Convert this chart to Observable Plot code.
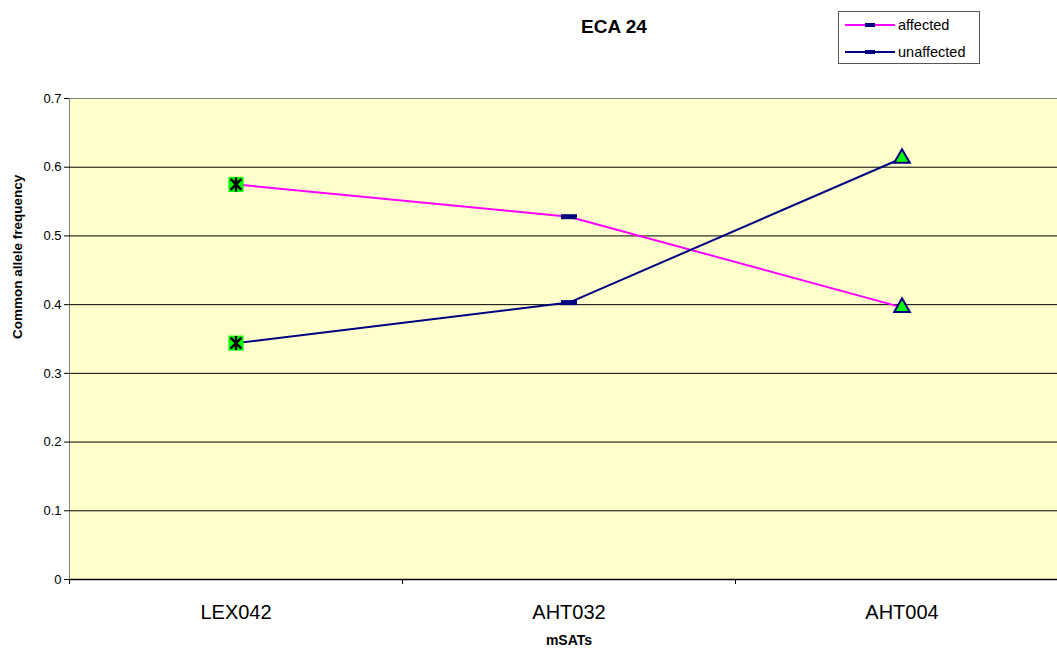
<!DOCTYPE html>
<html><head><meta charset="utf-8">
<script src="https://cdn.jsdelivr.net/npm/d3@7"></script>
<script src="https://cdn.jsdelivr.net/npm/@observablehq/plot@0.6"></script>
<style>
body{margin:0;overflow:hidden;background:#fff;font-family:"Liberation Sans",Arial,sans-serif}
#wrap{position:relative;width:1057px;height:652px;overflow:hidden}
#title{position:absolute;left:554px;width:120px;top:16px;text-align:center;font-weight:bold;font-size:19px;color:#000}
#legend{position:absolute;left:838px;top:11px;width:140px;height:51px;border:1px solid #555;background:#fff;font-size:14.5px}
.item{position:absolute;left:6px;height:16px;display:flex;align-items:center}
.item svg{margin-right:3px}
</style></head><body>
<div id="wrap"></div>
<script>
const markers = ["LEX042", "AHT032", "AHT004"];
const seriesNames = ["affected", "unaffected"];
const seriesColors = ["#FF00FF", "#000080"];
const affected = [0.575, 0.528, 0.396];
const unaffected = [0.344, 0.403, 0.613];
const markerShapes = ["asterisk", "dash", "triangle"];
const yTicks = [0, 0.1, 0.2, 0.3, 0.4, 0.5, 0.6, 0.7];
const chartTitle = "ECA 24";
const yLabel = "Common allele frequency";
const xLabel = "mSATs";

const rows = [];
[affected, unaffected].forEach((vals, si) => {
  vals.forEach((v, i) => rows.push({series: seriesNames[si], marker: markers[i], value: v, shape: markerShapes[i]}));
});

const W = 1068, H = 652, mL = 69, mR = 0, mT = 98, mB = 73;
const band = (W - mL - mR) / markers.length;
const dash = {draw(ctx) { ctx.rect(-8, -2.5, 16, 5); }};
const star = {draw(ctx) {
  ctx.moveTo(-5.5, -5.5); ctx.lineTo(5.5, 5.5);
  ctx.moveTo(-5.5, 5.5); ctx.lineTo(5.5, -5.5);
  ctx.moveTo(0, -7); ctx.lineTo(0, 7);
}};
const font = '"Liberation Sans", Arial, sans-serif';

const chart = Plot.plot({
  width: W, height: H,
  marginLeft: mL, marginRight: mR, marginTop: mT, marginBottom: mB,
  style: {fontFamily: font, maxWidth: "none", background: "transparent", overflow: "visible", color: "#000"},
  x: {type: "band", domain: markers, padding: 0, axis: null},
  y: {domain: [0, 0.7], axis: null},
  color: {domain: seriesNames, range: seriesColors},
  marks: [
    Plot.frame({fill: "#FFFFCC", stroke: "#808080"}),
    Plot.gridY(yTicks.slice(1, -1), {stroke: "#000", strokeOpacity: 1, strokeWidth: 1}),
    Plot.axisY(yTicks, {tickSize: 5, tickPadding: 3, fontSize: 13, label: null, tickFormat: d => String(d), stroke: "#000"}),
    Plot.ruleX([0], {stroke: "#000", strokeWidth: 1.5, frameAnchor: "left"}),
    Plot.ruleY([0], {stroke: "#000", strokeWidth: 1.5}),
    Plot.axisX({tickSize: 0, tickPadding: 25, fontSize: 20, label: null}),
    Plot.ruleX(markers, {x: d => d, dx: -band / 2, y1: 0, y2: 0, insetBottom: -5, stroke: "#000"}),
    Plot.line(rows, {x: "marker", y: "value", z: "series", stroke: "series", strokeWidth: 2}),
    Plot.dot(rows.filter(d => d.shape === "asterisk"), {x: "marker", y: "value", symbol: "square", r: 8.5, fill: "#00FF00", stroke: "none"}),
    Plot.dot(rows.filter(d => d.shape === "asterisk"), {x: "marker", y: "value", symbol: star, fill: "none", stroke: "#000", strokeWidth: 2.5}),
    Plot.dot(rows.filter(d => d.shape === "dash"), {x: "marker", y: "value", symbol: dash, fill: "#000080", stroke: "none"}),
    Plot.dot(rows.filter(d => d.shape === "triangle"), {x: "marker", y: "value", symbol: "triangle", r: 5.8, fill: "#00FF00", stroke: "#000080", strokeWidth: 2}),
    Plot.text([yLabel], {text: d => d, frameAnchor: "left", dx: -52, rotate: -90, fontSize: 13.5, fontWeight: "bold", fill: "#000"}),
    Plot.text([xLabel], {text: d => d, frameAnchor: "bottom", dy: 65, fontSize: 14, fontWeight: "bold", fill: "#000"})
  ]
});
const wrap = document.getElementById("wrap");
wrap.appendChild(chart);

const t = document.createElement("div");
t.id = "title"; t.textContent = chartTitle; wrap.appendChild(t);

const lg = document.createElement("div");
lg.id = "legend";
seriesNames.forEach((name, i) => {
  const it = document.createElement("div");
  it.className = "item";
  it.style.top = (5 + i * 27) + "px";
  const ns = "http://www.w3.org/2000/svg";
  const s = document.createElementNS(ns, "svg");
  s.setAttribute("width", 50); s.setAttribute("height", 14);
  const ln = document.createElementNS(ns, "line");
  ln.setAttribute("x1", 0); ln.setAttribute("x2", 50); ln.setAttribute("y1", 7); ln.setAttribute("y2", 7);
  ln.setAttribute("stroke", seriesColors[i]); ln.setAttribute("stroke-width", 2);
  const r = document.createElementNS(ns, "rect");
  r.setAttribute("x", 20); r.setAttribute("y", 5); r.setAttribute("width", 10); r.setAttribute("height", 4);
  r.setAttribute("fill", "#000080");
  s.appendChild(ln); s.appendChild(r);
  const sp = document.createElement("span"); sp.textContent = name;
  it.appendChild(s); it.appendChild(sp);
  lg.appendChild(it);
});
wrap.appendChild(lg);
</script>
</body></html>
